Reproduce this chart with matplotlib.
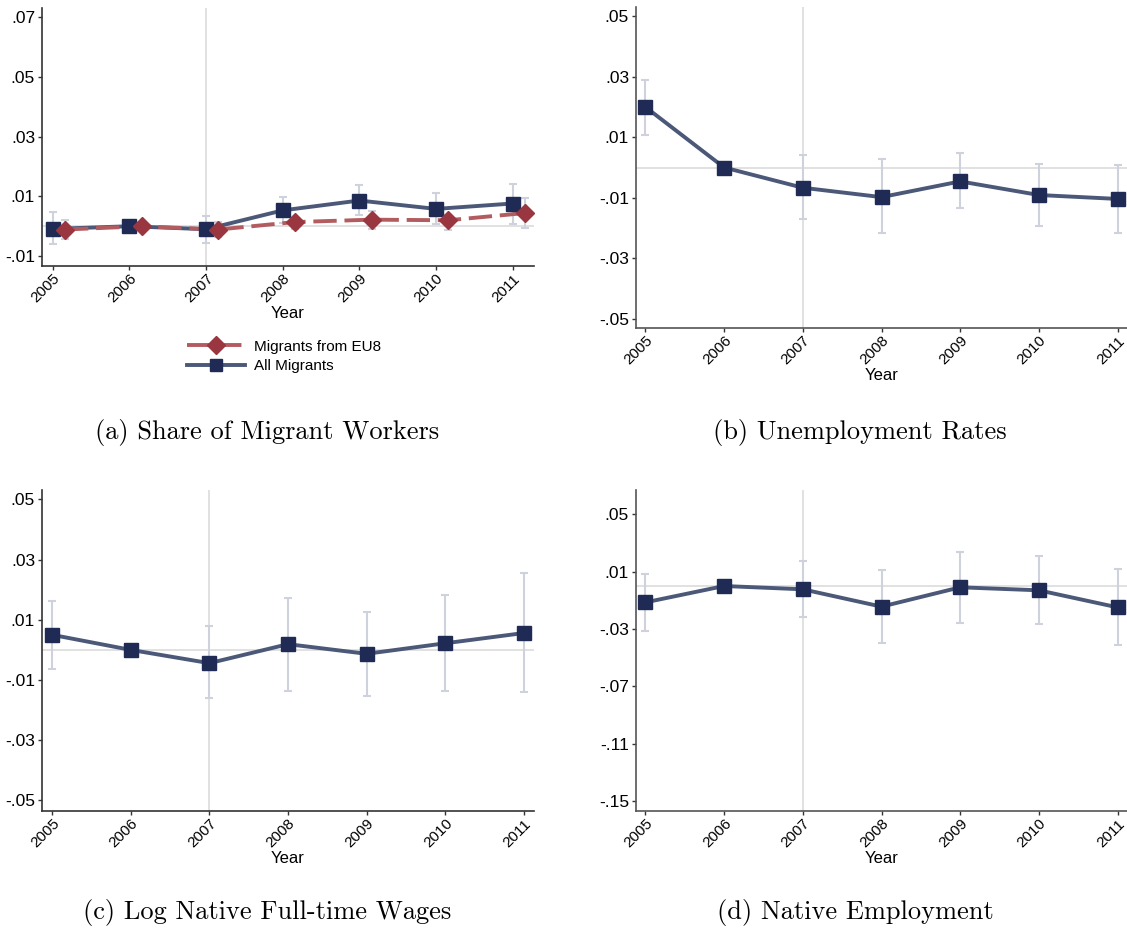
import matplotlib
matplotlib.use("Agg")
import matplotlib.pyplot as plt
import numpy as np
from matplotlib.lines import Line2D

W, H = 1127, 933
DPI = 100

years = [2005, 2006, 2007, 2008, 2009, 2010, 2011]
year_labels = ["2005", "2006", "2007", "2008", "2009", "2010", "2011"]

# (a) Share of migrant workers
a_all = [-0.0009, 0.0, -0.0010, 0.0053, 0.0086, 0.0058, 0.0076]
a_all_lo = [-0.0061, np.nan, -0.0056, 0.0010, 0.0036, 0.0009, 0.0009]
a_all_hi = [0.0047, np.nan, 0.0033, 0.0097, 0.0139, 0.0111, 0.0141]
a_eu8 = [-0.0011, 0.0, -0.0011, 0.0014, 0.0022, 0.0020, 0.0044]
a_eu8_lo = [-0.0044, np.nan, -0.0037, -0.0009, -0.0009, -0.0011, -0.0006]
a_eu8_hi = [0.0020, np.nan, 0.0014, 0.0028, 0.0050, 0.0036, 0.0096]
a_ticks = [-0.01, 0.01, 0.03, 0.05, 0.07]
a_ticklabels = ["-.01", ".01", ".03", ".05", ".07"]

# (b) Unemployment rates
b_vals = [0.0200, 0.0, -0.0067, -0.0098, -0.0046, -0.0091, -0.0104]
b_lo = [0.0108, np.nan, -0.0170, -0.0218, -0.0134, -0.0194, -0.0217]
b_hi = [0.0291, np.nan, 0.0040, 0.0027, 0.0049, 0.0011, 0.0009]
b_ticks = [-0.05, -0.03, -0.01, 0.01, 0.03, 0.05]
b_ticklabels = ["-.05", "-.03", "-.01", ".01", ".03", ".05"]

# (c) Log native full-time wages
c_vals = [0.0050, 0.0, -0.0044, 0.0019, -0.0013, 0.0022, 0.0056]
c_lo = [-0.0064, np.nan, -0.0161, -0.0136, -0.0153, -0.0136, -0.0141]
c_hi = [0.0161, np.nan, 0.0078, 0.0174, 0.0127, 0.0182, 0.0256]
c_ticks = [-0.05, -0.03, -0.01, 0.01, 0.03, 0.05]
c_ticklabels = ["-.05", "-.03", "-.01", ".01", ".03", ".05"]

# (d) Native employment
d_vals = [-0.0114, 0.0, -0.0023, -0.0144, -0.0009, -0.0030, -0.0149]
d_lo = [-0.0312, np.nan, -0.0214, -0.0396, -0.0256, -0.0266, -0.0415]
d_hi = [0.0082, np.nan, 0.0175, 0.0112, 0.0240, 0.0207, 0.0121]
d_ticks = [-0.15, -0.11, -0.07, -0.03, 0.01, 0.05]
d_ticklabels = ["-.15", "-.11", "-.07", "-.03", ".01", ".05"]

captions = ["(a) Share of Migrant Workers", "(b) Unemployment Rates",
            "(c) Log Native Full-time Wages", "(d) Native Employment"]
legend_labels = ["Migrants from EU8", "All Migrants"]
event_year = 2007
eu8_offset = 0.16

LINE_C = "#4b5878"
MARK_C = "#1f2b55"
EU_LINE_C = "#b25c60"
EU_MARK_C = "#9a3640"
CI_C = "#cfd2dc"
REF_C = "#dcdcdc"
DASH = (0, (6, 2))

plt.rcParams["font.family"] = ["Liberation Sans", "DejaVu Sans"]

fig = plt.figure(figsize=(W / DPI, H / DPI), dpi=DPI)


def rect(l, r, t, b):
    return [l / W, 1 - b / H, (r - l) / W, (b - t) / H]


def style(ax, box, ylim, xlim, ticks, ticklabels, spine_c="#333333"):
    ax.set_xlim(*xlim)
    ax.set_ylim(*ylim)
    for s in ["top", "right"]:
        ax.spines[s].set_visible(False)
    for s in ["left", "bottom"]:
        ax.spines[s].set_color(spine_c)
        ax.spines[s].set_linewidth(1.2)
    ax.set_yticks(ticks)
    ax.set_yticklabels(ticklabels, fontsize=12.5)
    ax.set_xticks(years)
    ax.set_xticklabels(year_labels, fontsize=11, rotation=45, ha="right",
                       rotation_mode="anchor")
    ax.tick_params(axis="both", length=3, width=1, color="#333333", pad=2)
    ax.tick_params(axis="x", pad=1)
    ax.set_xlabel("Year", fontsize=12)
    hpx = box[3] - box[2]
    ax.xaxis.set_label_coords(0.5, -47.5 / hpx)
    ax.xaxis.label.set_va("center")
    ax.axvline(event_year, color=REF_C, lw=1.2, zorder=0)
    ax.axhline(0, color=REF_C, lw=1.2, zorder=0)


def series(ax, x, v, lo, hi, lc, mc, marker, ls, ms):
    x = np.asarray(x, dtype=float)
    v = np.asarray(v)
    lo = np.asarray(lo)
    hi = np.asarray(hi)
    ok = ~np.isnan(lo)
    ax.errorbar(x[ok], v[ok], yerr=[v[ok] - lo[ok], hi[ok] - v[ok]], fmt="none",
                ecolor=CI_C, elinewidth=1.5, capsize=3, capthick=1.5, zorder=1)
    ax.plot(x, v, color=lc, lw=2.8, ls=ls, zorder=2)
    ax.plot(x, v, ls="none", marker=marker, ms=ms, color=mc, zorder=3)


# (a)
box = (42, 534, 8, 266)
ax = fig.add_axes(rect(*box))
style(ax, box, (-0.0133, 0.073), (2004.86, 2011.28), a_ticks, a_ticklabels)
series(ax, years, a_all, a_all_lo, a_all_hi, LINE_C, MARK_C, "s", "-", 10)
series(ax, np.array(years) + eu8_offset, a_eu8, a_eu8_lo, a_eu8_hi,
       EU_LINE_C, EU_MARK_C, "D", DASH, 9)
h_eu = Line2D([], [], color=EU_LINE_C, lw=2.8, ls=DASH, marker="D",
              ms=9, markerfacecolor=EU_MARK_C, markeredgecolor=EU_MARK_C)
h_all = Line2D([], [], color=LINE_C, lw=2.8, marker="s", ms=9,
               markerfacecolor=MARK_C, markeredgecolor=MARK_C)
fig.legend([h_eu, h_all], legend_labels, loc="upper left",
           bbox_to_anchor=(179 / W, 1 - 332 / H), frameon=False,
           fontsize=11, handlelength=3.8, labelspacing=0.35, borderpad=0,
           handletextpad=0.6)

# (b)
box = (636, 1127, 7, 328)
ax = fig.add_axes(rect(*box))
style(ax, box, (-0.0531, 0.0531), (2004.88, 2011.12), b_ticks, b_ticklabels, "#555555")
series(ax, years, b_vals, b_lo, b_hi, LINE_C, MARK_C, "s", "-", 10)

# (c)
box = (42, 534, 490, 811)
ax = fig.add_axes(rect(*box))
style(ax, box, (-0.0535, 0.0531), (2004.87, 2011.13), c_ticks, c_ticklabels)
series(ax, years, c_vals, c_lo, c_hi, LINE_C, MARK_C, "s", "-", 10)

# (d)
box = (636, 1127, 490, 811)
ax = fig.add_axes(rect(*box))
style(ax, box, (-0.157, 0.067), (2004.88, 2011.12), d_ticks, d_ticklabels, "#555555")
series(ax, years, d_vals, d_lo, d_hi, LINE_C, MARK_C, "s", "-", 10)

# captions
cap_pos = [(267, 433), (860, 433), (267, 913), (855, 913)]
for txt, (cx, cy) in zip(captions, cap_pos):
    fig.text(cx / W, 1 - cy / H, txt, ha="center", va="center",
             fontsize=19, family=["cmr10", "DejaVu Serif"])

fig.savefig("out.png", dpi=DPI)
